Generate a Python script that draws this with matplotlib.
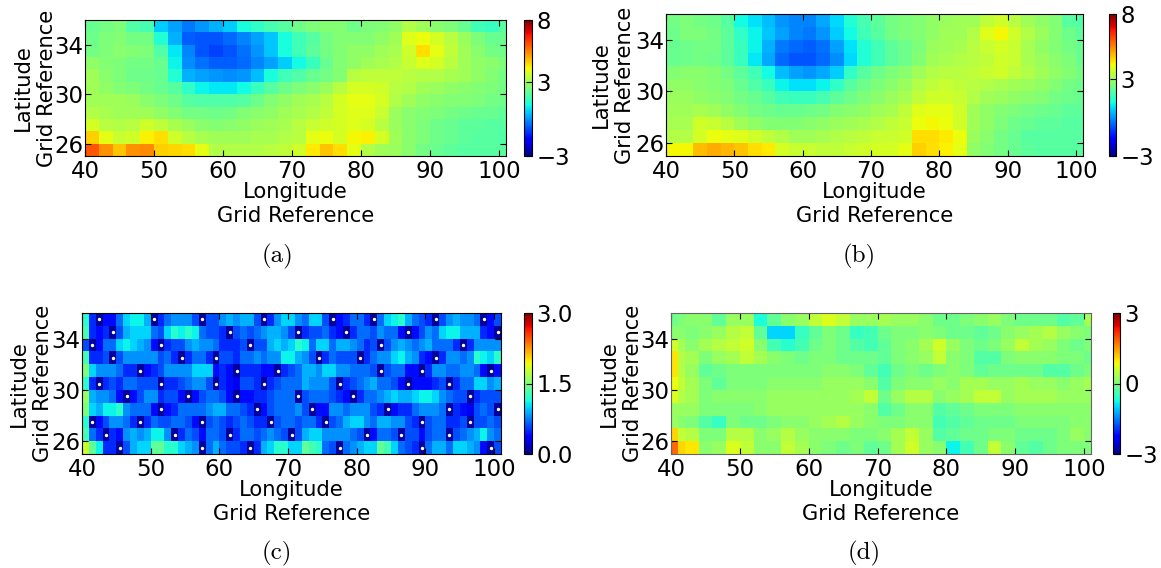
import numpy as np
import matplotlib
matplotlib.use("Agg")
import matplotlib.pyplot as plt

W, H = 1161, 568

# rows run from the top of the map (lat 35-36) down to lat 25-26, 2 degree columns from lon 40
a_rows = [
    [2.2,2.4,2.5,1.9,1.8,0.6,0.1,-0.3,0.0,0.3,0.6,1.2,1.5,1.8,2.0,2.3,2.5,2.6,2.6,2.3,2.5,2.6,2.8,3.2,3.0,2.7,2.5,2.2,1.7,1.6,2.0],
    [2.3,2.5,2.6,2.4,2.4,1.3,0.3,-0.6,-0.7,-0.7,-0.5,-0.2,0.1,0.5,1.2,1.7,2.0,2.4,2.6,2.6,2.6,2.8,3.0,3.8,4.0,3.7,3.3,2.9,2.5,2.2,2.2],
    [2.4,2.5,2.7,2.6,2.5,1.9,0.9,-0.2,-0.7,-0.9,-0.7,-0.4,0.0,0.5,1.2,1.7,2.1,2.4,2.6,2.8,2.8,3.0,3.1,3.6,4.4,3.9,3.4,3.0,2.7,2.4,2.3],
    [2.8,2.6,2.5,2.4,2.4,2.2,1.0,-0.1,-0.4,-0.6,-0.6,-0.5,-0.2,0.1,0.6,1.1,1.6,2.2,2.6,2.8,3.0,3.1,3.2,3.5,3.8,3.7,3.3,3.0,2.8,2.7,2.5],
    [3.0,2.7,2.5,2.3,2.3,2.2,1.3,0.3,0.1,0.0,-0.1,0.0,0.4,1.2,1.7,1.9,2.2,2.4,2.6,3.3,3.4,3.4,3.4,3.3,3.2,3.2,3.1,3.0,2.8,2.6,2.4],
    [3.0,2.8,2.6,2.5,2.4,2.2,2.0,1.5,1.0,0.9,0.9,1.1,1.6,2.0,2.3,2.5,2.7,2.9,3.3,3.7,3.7,3.6,3.3,3.2,3.0,2.9,2.8,2.7,2.6,2.5,2.4],
    [3.0,3.0,3.0,2.9,2.7,2.5,2.3,2.0,1.9,1.9,1.9,2.0,2.3,2.6,2.8,3.0,3.1,3.3,3.7,3.9,3.9,3.7,3.2,3.0,2.8,2.7,2.6,2.6,2.5,2.4,2.3],
    [3.2,3.1,3.0,3.0,3.0,2.8,2.6,2.4,2.4,2.3,2.4,2.6,2.7,2.8,3.0,3.1,3.2,3.4,3.7,3.8,3.8,3.5,2.9,2.7,2.6,2.5,2.4,2.3,2.2,2.2,2.1],
    [3.7,3.3,3.2,3.3,3.6,3.4,3.1,2.9,2.7,2.6,2.7,2.8,2.9,3.0,3.1,3.3,3.5,3.6,3.7,3.8,3.7,3.3,2.9,2.7,2.5,2.3,2.2,2.1,2.1,2.0,2.0],
    [4.6,3.9,3.5,3.6,4.2,4.4,3.6,3.3,3.1,3.0,3.0,3.0,3.1,3.1,3.2,3.3,3.9,4.0,3.7,4.1,4.2,3.7,3.0,2.7,2.5,2.3,2.2,2.1,2.0,2.0,1.9],
    [6.0,5.3,4.7,5.3,5.4,4.6,4.5,4.4,3.9,3.2,3.2,3.2,3.2,3.3,3.4,3.6,4.3,4.7,4.4,3.9,3.2,3.0,2.9,2.7,2.4,2.2,2.1,2.0,2.0,2.0,2.0],
]

b_rows = [
    [2.4,2.5,2.4,2.3,2.0,1.1,0.8,0.4,0.0,-0.2,-0.2,0.2,0.7,1.3,1.8,2.1,2.4,2.5,2.6,2.8,2.9,3.0,3.0,3.4,3.6,3.3,3.0,2.8,2.6,2.0,1.9],
    [2.3,2.5,2.5,2.4,2.1,1.5,1.0,0.5,0.1,-0.2,-0.3,0.0,0.6,1.1,1.7,2.0,2.4,2.5,2.6,2.8,3.0,3.0,3.2,3.8,4.1,3.6,3.2,2.9,2.6,2.3,2.1],
    [2.2,2.3,2.4,2.4,2.1,1.6,1.0,0.3,-0.3,-0.5,-0.6,-0.4,0.1,0.8,1.3,1.7,2.1,2.3,2.5,2.9,3.0,3.1,3.3,3.5,3.7,3.5,3.1,2.8,2.6,2.4,2.2],
    [2.2,2.3,2.4,2.3,2.1,1.6,0.9,0.2,-0.5,-0.7,-0.7,-0.5,-0.1,0.7,1.3,1.7,2.1,2.3,2.6,3.0,3.1,3.2,3.3,3.4,3.6,3.5,3.1,2.9,2.7,2.5,2.2],
    [2.6,2.7,2.7,2.6,2.4,2.1,1.7,1.1,0.4,0.1,0.0,0.2,0.6,1.5,2.0,2.3,2.5,2.7,3.0,3.2,3.3,3.3,3.4,3.5,3.6,3.4,3.2,3.0,2.8,2.6,2.4],
    [2.8,2.8,2.7,2.6,2.5,2.2,1.9,1.6,1.0,0.8,0.8,1.0,1.5,2.0,2.3,2.5,2.7,2.9,3.2,3.4,3.5,3.4,3.3,3.2,3.1,3.0,2.9,2.8,2.6,2.4,2.3],
    [2.9,2.9,2.8,2.7,2.6,2.4,2.2,2.0,1.7,1.6,1.6,1.8,2.1,2.3,2.5,2.7,2.9,3.1,3.4,3.6,3.6,3.5,3.2,3.0,2.9,2.8,2.7,2.6,2.4,2.3,2.2],
    [3.0,3.0,3.1,3.0,2.8,2.6,2.4,2.3,2.2,2.2,2.3,2.4,2.6,2.7,2.8,3.0,3.1,3.4,3.8,3.9,3.9,3.6,3.0,2.8,2.6,2.5,2.4,2.3,2.2,2.1,2.1],
    [3.1,3.1,3.6,3.5,3.3,3.0,2.8,2.6,2.6,2.6,2.7,2.8,2.9,3.0,3.1,3.2,3.4,3.5,4.0,4.1,4.0,3.6,3.0,2.8,2.5,2.3,2.2,2.1,2.1,2.0,2.0],
    [3.2,3.2,3.7,4.0,3.9,3.8,3.6,3.4,3.2,3.0,3.0,3.1,3.2,3.3,3.4,3.5,3.5,3.6,4.4,4.4,4.3,4.0,2.9,2.7,2.4,2.2,2.0,2.0,2.0,2.0,2.0],
    [4.1,4.1,4.8,5.0,4.9,4.7,4.4,4.3,3.7,3.5,3.5,3.4,3.4,3.5,3.6,3.7,3.7,3.9,4.6,4.4,4.2,3.9,2.8,2.6,2.4,2.2,2.1,2.0,2.0,2.0,2.0],
]

# panel d: the first two columns are one degree wide, the rest two degrees
d_rows = [
    [-0.1,0.0,0.1,0.1,-0.2,0.2,0.2,-0.7,-0.2,0.1,0.2,0.5,0.7,0.5,0.2,0.2,0.3,0.2,0.2,0.1,-0.1,-0.1,0.0,0.1,0.2,0.0,-0.1,-0.1,-0.1,-0.3,-0.2,0.3],
    [0.1,0.1,0.0,0.1,0.2,0.4,0.5,-0.2,-1.0,-1.0,-0.5,-0.2,0.0,-0.1,-0.5,-0.4,-0.1,0.0,0.0,0.1,0.0,-0.1,-0.1,-0.2,-0.1,0.1,0.2,0.3,0.4,0.2,0.1,0.0],
    [0.6,0.3,0.1,0.3,0.4,0.5,0.6,0.1,-0.4,-0.6,-0.4,-0.1,0.0,-0.1,-0.3,-0.4,-0.2,0.0,0.1,0.3,0.6,0.2,0.0,-0.1,0.0,0.2,0.5,0.3,0.2,0.0,-0.1,0.0],
    [1.0,0.4,0.3,0.0,0.2,0.3,0.5,0.3,0.1,0.0,-0.1,0.0,0.0,-0.1,-0.1,-0.1,-0.2,0.0,0.1,0.2,0.5,0.1,0.0,-0.3,-0.3,0.0,0.1,0.1,0.1,0.0,0.0,-0.1],
    [1.0,0.4,0.2,-0.2,-0.1,0.0,0.0,0.0,0.0,0.0,0.0,0.0,0.1,0.1,0.0,-0.2,-0.4,-0.1,0.0,-0.1,0.0,0.1,0.0,-0.2,-0.1,-0.1,-0.1,-0.1,-0.3,-0.3,-0.1,0.0],
    [0.8,0.5,0.3,0.0,-0.2,0.0,0.0,0.0,0.1,0.1,0.1,0.1,0.2,0.2,0.2,0.1,-0.3,0.0,0.1,0.1,0.2,0.1,0.3,0.3,0.2,0.2,0.3,0.2,0.2,0.1,0.2,0.3],
    [0.7,0.4,0.3,0.0,0.1,0.1,0.1,0.1,0.2,0.2,0.2,0.2,0.2,0.2,0.3,0.5,-0.1,0.2,0.4,0.4,0.1,0.2,0.3,0.5,0.5,0.2,0.3,0.3,0.3,0.2,0.2,0.2],
    [0.2,0.2,0.2,0.0,0.0,0.0,0.0,0.1,0.2,0.2,0.2,0.2,0.2,0.2,0.2,0.1,-0.3,-0.1,0.1,0.1,-0.3,-0.2,-0.1,0.0,0.0,0.0,0.1,0.1,0.1,0.1,0.1,0.1],
    [0.2,0.1,0.0,-0.3,-0.5,0.0,-0.1,-0.1,0.0,0.1,0.1,0.2,0.3,0.4,0.2,0.1,0.0,0.0,0.1,0.1,-0.4,-0.3,-0.2,-0.1,-0.1,-0.1,0.0,0.0,0.0,0.0,0.1,0.1],
    [1.1,0.5,0.4,0.0,0.0,0.4,0.4,0.1,0.2,0.4,0.2,0.1,0.1,0.1,0.0,0.0,0.1,0.3,0.5,0.2,-0.3,-0.2,-0.1,-0.1,0.0,0.0,-0.1,-0.1,-0.1,0.0,0.2,0.1],
    [1.8,1.1,1.0,0.1,0.2,0.7,0.5,0.1,0.1,0.5,0.3,0.1,0.0,-0.1,0.0,-0.2,-0.1,0.3,0.6,0.2,0.1,-0.8,-0.4,-0.1,0.5,0.1,-0.2,-0.3,-0.1,0.0,0.0,0.0],
]

# panel c has one degree columns, values in tenths, 1 marks a sampled cell
c_rows = [
    [11,4,1,3,3,6,9,10,10,8,1,4,6,7,7,7,5,1,5,5,7,8,7,8,8,5,1,4,7,9,9,7,6,9,9,5,1,3,4,6,6,4,1,6,9,10,11,8,6,5,4,1,5,7,8,7,7,6,1,3,5],
    [12,4,3,4,1,5,8,9,9,9,6,5,9,11,10,11,10,6,5,5,4,1,5,6,5,6,7,8,8,7,5,1,4,5,5,6,4,3,1,4,6,6,5,7,6,6,3,1,3,5,7,6,9,10,10,8,8,8,4,3,1],
    [5,1,3,6,6,9,10,9,8,7,3,1,4,5,5,7,8,7,7,6,4,4,4,5,1,5,5,8,9,8,9,11,10,6,9,9,6,8,8,7,6,4,5,1,5,7,8,7,6,7,8,6,6,6,4,1,4,7,7,7,7],
    [12,4,4,5,1,5,7,7,7,7,7,5,6,4,1,4,6,6,4,1,5,5,4,6,6,7,6,7,7,10,10,8,7,5,1,4,6,5,5,5,1,4,6,7,7,9,10,8,7,4,3,1,4,7,7,6,7,11,10,9,11],
    [14,9,7,7,7,6,4,4,1,3,4,5,7,7,7,7,9,9,9,3,4,3,1,4,4,4,3,3,1,4,5,6,8,8,7,9,9,7,7,6,6,6,5,1,5,6,6,3,3,1,4,7,7,6,6,7,7,6,3,1,3],
    [11,4,1,4,5,4,6,6,5,5,5,1,4,4,5,6,7,7,5,1,4,3,2,5,5,4,1,4,5,6,6,6,8,7,7,7,5,1,4,5,6,7,8,6,6,5,3,1,3,3,3,4,5,1,4,6,6,9,9,7,8],
    [15,8,7,7,6,3,1,3,5,7,7,4,5,5,3,1,3,5,6,6,5,3,1,3,3,4,4,5,6,6,6,1,5,6,6,6,5,4,3,1,4,6,6,7,8,9,8,8,9,10,10,9,7,6,5,5,1,4,5,5,5],
    [14,9,8,10,10,11,7,6,6,6,3,1,3,4,6,6,6,6,7,8,8,6,6,5,4,1,3,5,6,6,6,7,5,1,3,3,7,7,6,7,7,7,5,4,1,3,4,4,6,7,7,7,6,1,4,3,2,5,6,5,1],
    [11,1,3,5,7,7,6,4,1,4,6,5,5,6,6,5,3,1,5,6,5,4,5,6,5,4,4,1,5,6,6,5,6,6,4,1,5,6,8,9,9,7,6,8,8,7,7,5,4,1,5,6,6,4,4,5,1,5,5,6,5],
    [12,6,4,1,4,3,7,8,7,8,10,10,7,1,4,6,5,3,6,6,5,1,4,6,6,5,6,7,6,5,1,5,8,9,9,7,7,7,7,6,5,1,3,6,6,5,1,5,5,3,5,6,6,1,5,6,7,8,10,7,6],
    [17,13,10,4,4,1,5,8,9,9,13,13,11,11,9,8,7,1,6,8,6,5,5,4,1,4,8,9,11,11,9,9,13,12,11,6,5,1,6,7,8,9,9,13,12,9,6,5,4,1,6,8,8,6,9,9,8,7,3,1,5],
]
dot_lon = [42,50,57,66,76,82,91,98, 44,61,71,78,87,100, 41,51,64,83,95, 44,54,59,74,80,91, 48,62,68,83,89,99,
           42,51,59,66,77,87,93, 46,55,62,71,79,96, 51,65,73,84,93,100, 41,48,57,67,75,89,96,
           43,53,61,70,81,86,93, 45,57,64,77,89,99]
dot_lat = [35]*8 + [34]*6 + [33]*5 + [32]*6 + [31]*6 + [30]*7 + [29]*6 + [28]*6 + [27]*7 + [26]*7 + [25]*6

x_ticks = [40, 50, 60, 70, 80, 90, 100]
y_ticks = [26, 30, 34]


def rect(l, t, r, b):
    return [l / W, 1 - b / H, (r - l) / W, (b - t) / H]


def panel(vals, lon_edges, vmin, vmax, cticks, ctlabels, box, cbox, cap, cap_xy, ypad):
    ax = fig.add_axes(rect(*box))
    lat_edges = np.arange(36, 24, -1)
    m = ax.pcolormesh(lon_edges, lat_edges, np.array(vals), cmap="jet", vmin=vmin, vmax=vmax)
    ax.set_xlim(40, 101)
    ax.set_ylim(25, 36)
    ax.set_xticks(x_ticks)
    ax.set_yticks(y_ticks)
    ax.tick_params(direction="in", top=True, right=True, length=4, width=0.8, labelsize=16.5, pad=3)
    ax.tick_params(axis="y", pad=1)
    ax.set_xlabel("Longitude\nGrid Reference", fontsize=15.2, labelpad=-1, linespacing=1.25)
    ax.set_ylabel("Latitude\nGrid Reference", fontsize=15.2, labelpad=ypad, linespacing=1.25)
    cax = fig.add_axes(rect(*cbox))
    cb = fig.colorbar(m, cax=cax, ticks=cticks)
    cb.ax.set_yticklabels(ctlabels)
    cb.ax.tick_params(direction="in", length=4, width=0.8, labelsize=16.5, pad=3)
    cb.outline.set_linewidth(0.8)
    fig.text(cap_xy[0] / W, 1 - cap_xy[1] / H, cap, family="cmr10", fontsize=18, ha="center", va="center")
    return ax


fig = plt.figure(figsize=(W / 100, H / 100), dpi=100)
wide = np.append(np.arange(40, 101, 2), 101)
narrow = np.arange(40, 102)
wide_d = np.insert(wide, 1, 41)

c_arr = np.array(c_rows)
c_vals = np.where(c_arr == 1, 0.08, (c_arr + 1) / 10)

panel(a_rows, wide, -3, 8, [-3, 3, 8], ["\u22123", "3", "8"],
      (85, 20, 506, 156), (524, 20, 532, 156), "(a)", (277, 256), -2)
panel(b_rows, wide, -3, 8, [-3, 3, 8], ["\u22123", "3", "8"],
      (666, 14, 1083, 156), (1109, 14, 1116, 156), "(b)", (859, 256), 0.5)
ax_c = panel(c_vals, narrow, 0, 3, [0, 1.5, 3], ["0.0", "1.5", "3.0"],
             (82, 313, 501, 454), (524, 313, 532, 454), "(c)", (277, 553), -1)
ax_c.scatter(np.array(dot_lon) + 0.5, np.array(dot_lat) + 0.5, s=6, c="white", linewidths=0, zorder=3)
ax_d = panel(d_rows, wide_d, -3, 3, [-3, 0, 3], ["\u22123", "0", "3"],
             (671, 313, 1091, 454), (1113, 313, 1120, 454), "(d)", (864, 553), -2)
for s in ax_d.spines.values():
    s.set_color("0.4")

fig.savefig("out.png", dpi=100)
